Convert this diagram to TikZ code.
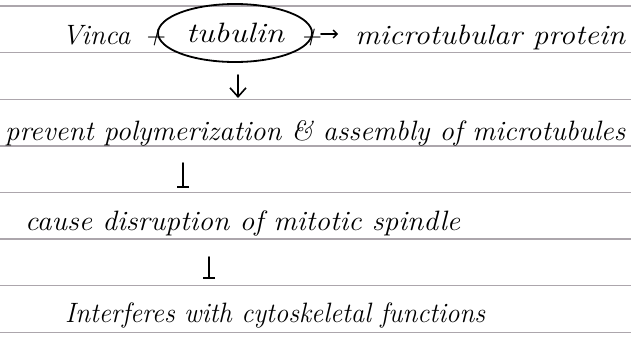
\documentclass[tikz,border=0pt]{standalone}
\usepackage{graphicx}
\usetikzlibrary{shapes.geometric,arrows.meta}
\definecolor{rule}{RGB}{172,166,172}
\tikzset{
  ruled/.style={draw=rule, line width=1.4pt},
  hand/.style={inner sep=0pt, anchor=base west, font=\fontsize{28}{32}\selectfont\itshape},
  pen/.style={line width=1.6pt, black, line cap=round},
  downarrow/.style={pen, -{Straight Barb[length=9pt,width=16pt,line width=1.6pt]}},
  bararrow/.style={pen, -{Bar[width=12pt,line width=1.6pt]}},
}
\newcommand{\fitw}[2]{\resizebox{#1}{\height}{#2}}
\begin{document}
\begin{tikzpicture}[x=1pt,y=-1pt]
\useasboundingbox (0,0) rectangle (631,343);
\fill[white] (0,0) rectangle (631,343);
% ruled lines
\foreach \k in {0,...,7}{
  \draw[ruled] (0,{6+\k*46.6}) -- (631,{6+\k*46.6});
}
% row 1
\node[hand] (vinca) at (62,44) {\fitw{68pt}{Vinca}};
\node[hand] (plusa) at (144,44) {+};
\node[ellipse, draw, line width=1.8pt, minimum width=154pt, minimum height=58pt, inner sep=0pt,
      font=\fontsize{28}{32}\selectfont\itshape] (tub) at (235,33) {\fitw{98pt}{tubulin}};
\node[hand] (plusb) at (300,44) {+};
\coordinate (ra) at (321,34);
\coordinate (rb) at (338,34);
\draw[pen, -{Straight Barb[length=4pt,width=8pt,line width=1.4pt]}] (ra) -- (rb);
\node[hand] (prot) at (355,44) {\fitw{270pt}{microtubular protein}};
% arrow 1
\coordinate (a1s) at (238,75);
\coordinate (a1e) at (238,98);
\draw[downarrow] (a1s) -- (a1e);
% row 3
\node[hand] (prev) at (5,140) {\fitw{620pt}{prevent polymerization \& assembly of microtubules}};
% arrow 2
\coordinate (a2s) at (183,163);
\coordinate (a2e) at (183,188);
\draw[bararrow] (a2s) -- (a2e);
% row 5
\node[hand] (cause) at (25,230) {\fitw{435pt}{cause disruption of mitotic spindle}};
% arrow 3
\coordinate (a3s) at (209,257);
\coordinate (a3e) at (209,279);
\draw[bararrow] (a3s) -- (a3e);
% row 7
\node[hand] (inter) at (65,322) {\fitw{420pt}{Interferes with cytoskeletal functions}};
\end{tikzpicture}
\end{document}
